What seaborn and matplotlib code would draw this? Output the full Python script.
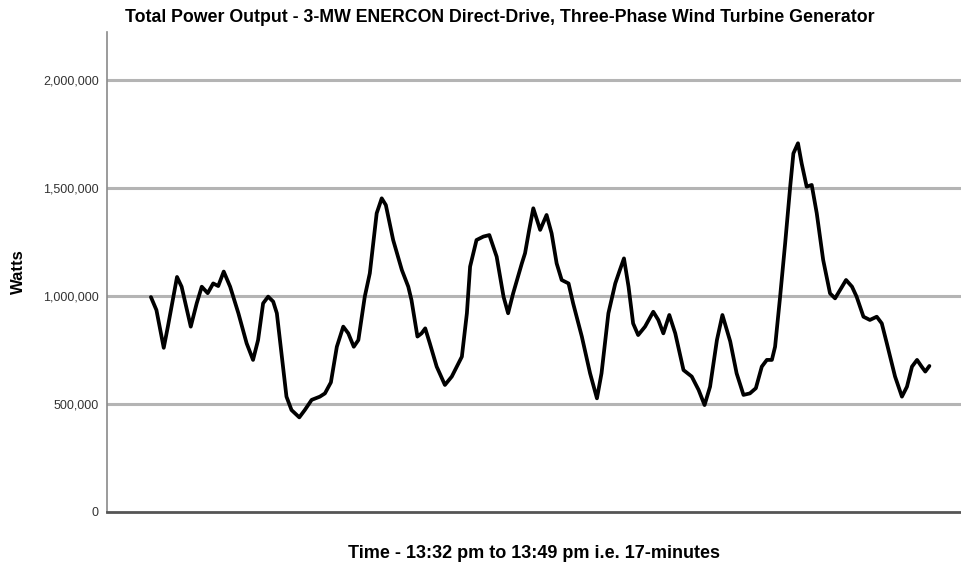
import matplotlib
matplotlib.use("Agg")
import matplotlib.pyplot as plt
import matplotlib.ticker as mticker
import seaborn as sns
import pandas as pd

# Minuter sedan 13:32 och effekt i watt (8 värden per rad)
minutes = [0.00, 0.12, 0.28, 0.37, 0.57, 0.67, 0.87, 1.00,
           1.11, 1.24, 1.36, 1.47, 1.59, 1.73, 1.91, 2.09,
           2.23, 2.34, 2.45, 2.56, 2.67, 2.75, 2.85, 2.96,
           3.07, 3.24, 3.36, 3.51, 3.69, 3.80, 3.93, 4.06,
           4.20, 4.31, 4.43, 4.53, 4.67, 4.78, 4.93, 5.04,
           5.13, 5.29, 5.48, 5.62, 5.69, 5.82, 5.91, 5.99,
           6.09, 6.24, 6.42, 6.57, 6.79, 6.90, 6.97, 7.11,
           7.26, 7.39, 7.55, 7.70, 7.80, 7.91, 8.10, 8.17,
           8.26, 8.35, 8.50, 8.64, 8.75, 8.86, 8.97, 9.12,
           9.22, 9.41, 9.59, 9.74, 9.84, 9.99, 10.14, 10.24,
           10.33, 10.43, 10.53, 10.64, 10.79, 10.97, 11.08, 11.19,
           11.32, 11.45, 11.63, 11.81, 11.96, 12.09, 12.21, 12.36,
           12.48, 12.65, 12.79, 12.94, 13.08, 13.21, 13.34, 13.45,
           13.56, 13.63, 13.74, 13.85, 13.96, 14.03, 14.13, 14.21,
           14.32, 14.43, 14.54, 14.68, 14.83, 14.94, 15.05, 15.18,
           15.31, 15.41, 15.56, 15.70, 15.85, 15.96, 16.07, 16.25,
           16.40, 16.51, 16.62, 16.73, 16.83, 16.91, 17.00]
watts = [995000, 935000, 760000, 858000, 1088000, 1043000, 858000, 966000,
         1043000, 1013000, 1058000, 1046000, 1113000, 1043000, 920000, 781000,
         704000, 796000, 966000, 997000, 974000, 920000, 735000, 534000,
         472000, 438000, 472000, 519000, 534000, 549000, 600000, 765000,
         858000, 827000, 765000, 796000, 997000, 1105000, 1383000, 1452000,
         1421000, 1259000, 1120000, 1043000, 981000, 812000, 827000, 850000,
         781000, 673000, 588000, 627000, 719000, 920000, 1136000, 1259000,
         1275000, 1282000, 1182000, 997000, 920000, 1012000, 1151000, 1198000,
         1306000, 1406000, 1306000, 1375000, 1290000, 1151000, 1074000, 1058000,
         966000, 812000, 642000, 526000, 642000, 920000, 1058000, 1120000,
         1174000, 1043000, 873000, 819000, 858000, 927000, 889000, 827000,
         912000, 827000, 657000, 627000, 565000, 495000, 580000, 796000,
         912000, 790000, 642000, 542000, 549000, 573000, 673000, 704000,
         704000, 765000, 997000, 1244000, 1506000, 1660000, 1707000, 1614000,
         1506000, 1514000, 1383000, 1167000, 1012000, 989000, 1028000, 1074000,
         1043000, 997000, 904000, 889000, 904000, 873000, 781000, 627000,
         534000, 580000, 673000, 704000, 673000, 650000, 676000]

y_ticks = [0, 500000, 1000000, 1500000, 2000000]

df = pd.DataFrame({"Tid": minutes, "Watts": watts})

sns.set_style("white")
plt.rcParams["font.family"] = ["Liberation Sans", "DejaVu Sans"]

fig = plt.figure(figsize=(9.61, 5.70), dpi=100)
ax = fig.add_axes([0.1113, 0.1018, 0.8887, 0.8421])

sns.lineplot(data=df, x="Tid", y="Watts", ax=ax, color="black", linewidth=2.7,
             solid_joinstyle="round", solid_capstyle="round")

ax.set_ylim(0, 2222222)
ax.set_xlim(-0.96, 17.69)
ax.set_yticks(y_ticks)
ax.yaxis.set_major_formatter(mticker.FuncFormatter(lambda v, p: f"{int(v):,}"))
ax.set_xticks([])
ax.tick_params(axis="y", length=0, labelsize=9, colors="#333333", pad=6)

for t in y_ticks[1:]:
    ax.axhline(t, color="#b4b4b4", linewidth=2.2, zorder=0)

for s in ["top", "right"]:
    ax.spines[s].set_visible(False)
ax.spines["left"].set_color("#8a8a8a")
ax.spines["left"].set_linewidth(1.2)
ax.spines["bottom"].set_color("#555555")
ax.spines["bottom"].set_linewidth(2)

ax.set_xlabel("Time - 13:32 pm to 13:49 pm i.e. 17-minutes", fontsize=13,
              fontweight="bold", labelpad=24, color="black")
ax.set_ylabel("Watts", fontsize=12, fontweight="bold", labelpad=12, color="black")
fig.text(0.52, 0.97, "Total Power Output - 3-MW ENERCON Direct-Drive, Three-Phase Wind Turbine Generator",
         ha="center", va="center", fontsize=12.8, fontweight="bold", color="black")

fig.savefig("out.png", dpi=100)
